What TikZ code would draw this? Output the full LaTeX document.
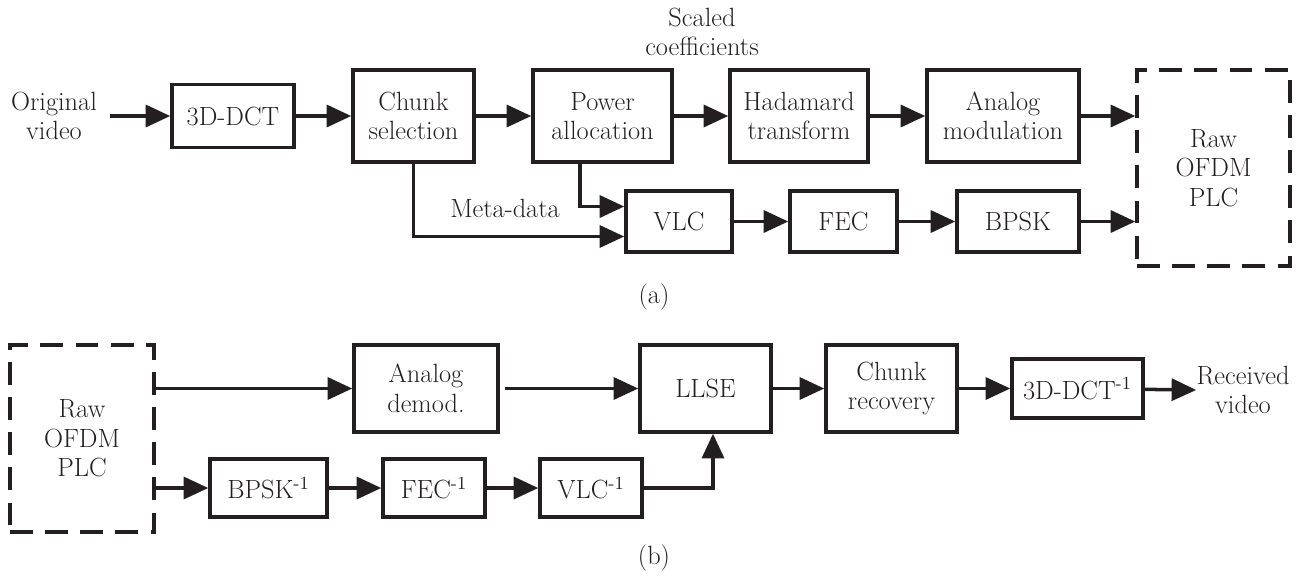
\documentclass[tikz,border=0pt]{standalone}
\usetikzlibrary{arrows.meta}
\definecolor{ink}{RGB}{35,31,32}
\begin{document}
\begin{tikzpicture}[x=0.02cm,y=-0.02cm,
  font=\fontsize{15}{16.8}\selectfont,
  every node/.style={text=ink},
  blk/.style 2 args={draw=ink,line width=2pt,align=center,inner sep=0pt,minimum width=#1cm,minimum height=#2cm},
  dbox/.style 2 args={draw=ink,line width=2pt,dash pattern=on 13pt off 7pt,align=center,inner sep=0pt,minimum width=#1cm,minimum height=#2cm},
  txt/.style={align=center,inner sep=0pt},
  arr/.style={draw=ink,line width=2pt,-{Triangle[length=14pt,width=12.5pt]}},
  ln/.style={draw=ink,line width=2pt}
]
\useasboundingbox (0,0) rectangle (1306,576);
% ---------- (a) ----------
\node[txt,inner xsep=7pt] (orig) at (54,116) {Original\\video};
\node[blk={2.44}{1.26}] (dct) at (233,116) {3D-DCT};
\node[blk={2.42}{1.84}] (chunk) at (413.5,116) {Chunk\\selection};
\node[blk={2.78}{1.84}] (power) at (602.5,116) {Power\\allocation};
\node[blk={2.76}{1.84}] (hada) at (799,116) {Hadamard\\transform};
\node[blk={3.04}{1.84}] (anamod) at (1003,116) {Analog\\modulation};
\node[dbox={3.06}{3.92}] (raw1) at (1213.5,168) {Raw\\OFDM\\PLC};
\node[blk={2.12}{1.22}] (vlc) at (679,221.5) {VLC};
\node[blk={2.14}{1.22}] (fec) at (843.5,221.5) {FEC};
\node[blk={2.44}{1.22}] (bpsk) at (1018,221.5) {BPSK};
\node[txt] (meta) at (505,208) {Meta-data};
\node[txt] (scaled) at (702,32) {Scaled\\coefficients};
\node[txt] (capa) at (654,297) {(a)};

\draw[arr] (orig.east) -- (dct);
\draw[arr] (dct) -- (chunk);
\draw[arr] (chunk) -- (power);
\draw[arr] (power) -- (hada);
\draw[arr] (hada) -- (anamod);
\draw[arr] (anamod) -- (raw1.west |- anamod);
\draw[arr] (vlc) -- (fec);
\draw[arr] (fec) -- (bpsk);
\draw[arr] (bpsk) -- (raw1.west |- bpsk);
\draw[arr] (chunk.south) |- ([yshift=-0.3cm]vlc.west);
\draw[arr] ([xshift=-0.45cm]power.south) |- ([yshift=0.3cm]vlc.west);

% ---------- (b) ----------
\node[dbox={2.88}{3.74}] (raw2) at (82,438.5) {Raw\\OFDM\\PLC};
\node[blk={2.88}{1.74}] (demod) at (426,388.5) {Analog\\demod.};
\node[blk={2.62}{1.74}] (llse) at (705.5,388.5) {LLSE};
\node[blk={2.62}{1.74}] (chrec) at (891.5,388.5) {Chunk\\recovery};
\node[blk={2.62}{1.18}] (idct) at (1077.5,388.5) {3D-DCT\textsuperscript{-1}};
\node[txt] (recv) at (1243,390) {Received\\video};
\node[blk={2.34}{1.16}] (bpski) at (268.5,488) {BPSK\textsuperscript{-1}};
\node[blk={2.04}{1.16}] (feci) at (434,488) {FEC\textsuperscript{-1}};
\node[blk={2.04}{1.16}] (vlci) at (591,488) {VLC\textsuperscript{-1}};
\node[txt] (capb) at (654,558) {(b)};

\draw[arr] (raw2.east |- demod) -- (demod);
\draw[arr,shorten <=3pt] (demod) -- (llse);
\draw[arr] (llse) -- (chrec);
\draw[arr] (chrec) -- (idct);
\draw[arr] (idct) -- (recv.west);
\draw[arr] (raw2.east |- bpski) -- (bpski);
\draw[arr] (bpski) -- (feci);
\draw[arr] (feci) -- (vlci);
\draw[arr] (vlci.east) -| ([xshift=0.15cm]llse.south);
\end{tikzpicture}
\end{document}
